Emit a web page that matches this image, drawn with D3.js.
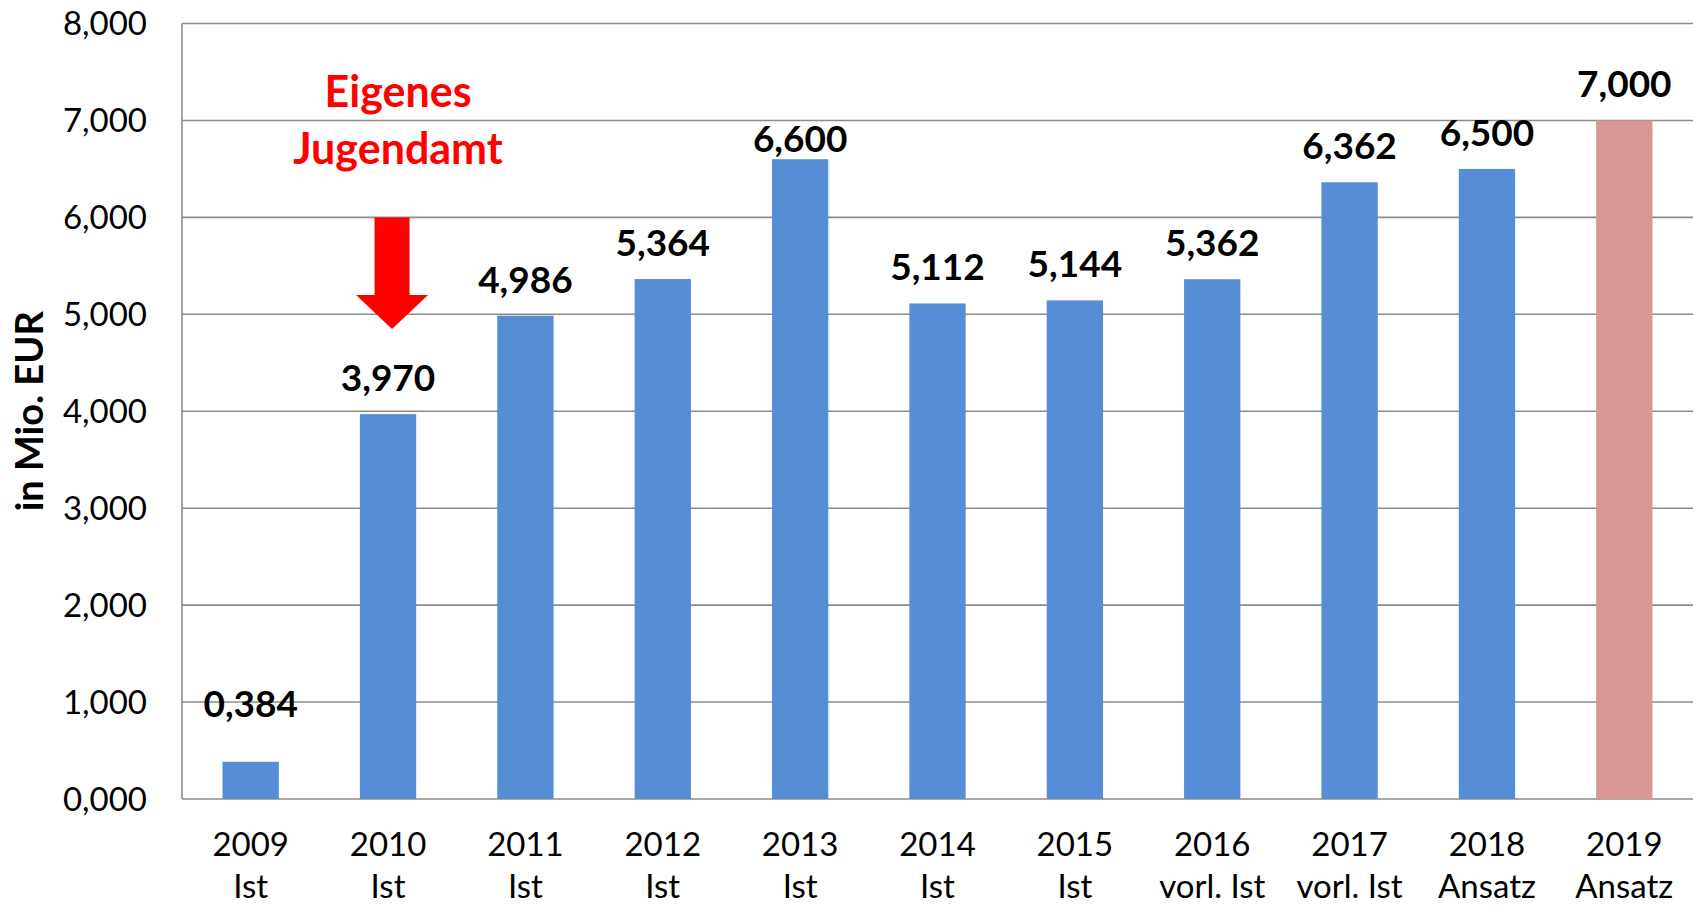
<!DOCTYPE html>
<html>
<head>
<meta charset="utf-8">
<script src="https://cdn.jsdelivr.net/npm/d3@7"></script>
<style>
  body { margin: 0; background: #fff; }
  text { font-family: Lato, "Open Sans", sans-serif; }
</style>
</head>
<body>
<svg id="chart"></svg>
<script>
// values in Mio. EUR
const years = ["2009", "2010", "2011", "2012", "2013", "2014", "2015", "2016", "2017", "2018", "2019"];
const kinds = ["Ist", "Ist", "Ist", "Ist", "Ist", "Ist", "Ist", "vorl. Ist", "vorl. Ist", "Ansatz", "Ansatz"];
const values = [0.384, 3.970, 4.986, 5.364, 6.600, 5.112, 5.144, 5.362, 6.362, 6.500, 7.000];
const yTicks = [0, 1, 2, 3, 4, 5, 6, 7, 8];
const annotation = ["Eigenes", "Jugendamt"];

const width = 1694, height = 907;
const plotLeft = 182, plotRight = 1693, plotTop = 23.5, plotBottom = 799;

const de = d3.formatLocale({ decimal: ",", thousands: ".", grouping: [3], currency: ["", " €"] });
const fmt = de.format(".3f");

const svg = d3.select("#chart")
    .attr("width", width)
    .attr("height", height);

const x = d3.scaleBand()
    .domain(years)
    .range([plotLeft, plotRight])
    .paddingInner(0.59)
    .paddingOuter(0.295);

const y = d3.scaleLinear()
    .domain([0, 8])
    .range([plotBottom, plotTop]);

// gridlines
svg.append("g")
    .selectAll("line")
    .data(yTicks)
    .enter().append("line")
    .attr("x1", plotLeft)
    .attr("x2", plotRight)
    .attr("y1", d => y(d))
    .attr("y2", d => y(d))
    .attr("stroke", "#8c8c8c")
    .attr("stroke-width", 1.6);

svg.append("line")
    .attr("x1", plotLeft).attr("x2", plotLeft)
    .attr("y1", y(8)).attr("y2", y(0))
    .attr("stroke", "#8c8c8c")
    .attr("stroke-width", 1.6);

// y tick labels
svg.append("g")
    .selectAll("text")
    .data(yTicks)
    .enter().append("text")
    .attr("x", plotLeft - 35)
    .attr("y", d => y(d) + 11.5)
    .attr("text-anchor", "end")
    .style("font-size", "33px")
    .style("fill", "#000")
    .text(d => fmt(d));

// y axis title
svg.append("text")
    .attr("transform", `translate(43, ${(plotTop + plotBottom) / 2}) rotate(-90)`)
    .attr("text-anchor", "middle")
    .style("font-size", "38px")
    .style("font-weight", "bold")
    .text("in Mio. EUR");

// bars
svg.append("g")
    .selectAll("rect")
    .data(values)
    .enter().append("rect")
    .attr("x", (d, i) => x(years[i]))
    .attr("width", x.bandwidth())
    .attr("y", d => y(d))
    .attr("height", d => y(0) - y(d))
    .attr("fill", (d, i) => i === values.length - 1 ? "#d99694" : "#558ed5");

// data labels (a couple were nudged by hand in the original)
const labelGap = { 0: 45, 4: 7 };
svg.append("g")
    .selectAll("text")
    .data(values)
    .enter().append("text")
    .attr("x", (d, i) => x(years[i]) + x.bandwidth() / 2)
    .attr("y", (d, i) => y(d) - (labelGap[i] !== undefined ? labelGap[i] : 23))
    .attr("text-anchor", "middle")
    .style("font-size", "37px")
    .style("font-weight", "bold")
    .style("fill", "#000")
    .text(d => fmt(d));

// category labels, two lines
const xl = svg.append("g")
    .selectAll("text")
    .data(years)
    .enter().append("text")
    .attr("text-anchor", "middle")
    .style("font-size", "33px")
    .style("fill", "#000");

xl.append("tspan")
    .attr("x", d => x(d) + x.bandwidth() / 2)
    .attr("y", 856)
    .text(d => d);

xl.append("tspan")
    .attr("x", d => x(d) + x.bandwidth() / 2)
    .attr("y", 898)
    .text((d, i) => kinds[i]);

// annotation
const cx = x("2010") + x.bandwidth() / 2 + 4;
svg.append("text")
    .attr("text-anchor", "middle")
    .style("font-size", "43px")
    .style("font-weight", "bold")
    .style("fill", "#ff0000")
    .selectAll("tspan")
    .data(annotation)
    .enter().append("tspan")
    .attr("x", cx + 6)
    .attr("y", (d, i) => 107 + i * 57)
    .text(d => d);

const aTop = y(6), aNeck = 295, aTip = 329;
svg.append("path")
    .attr("d", `M${cx - 17.5},${aTop} L${cx + 17.5},${aTop} L${cx + 17.5},${aNeck} L${cx + 36},${aNeck}
                L${cx},${aTip} L${cx - 36},${aNeck} L${cx - 17.5},${aNeck} Z`)
    .attr("fill", "#ff0000");
</script>
</body>
</html>
